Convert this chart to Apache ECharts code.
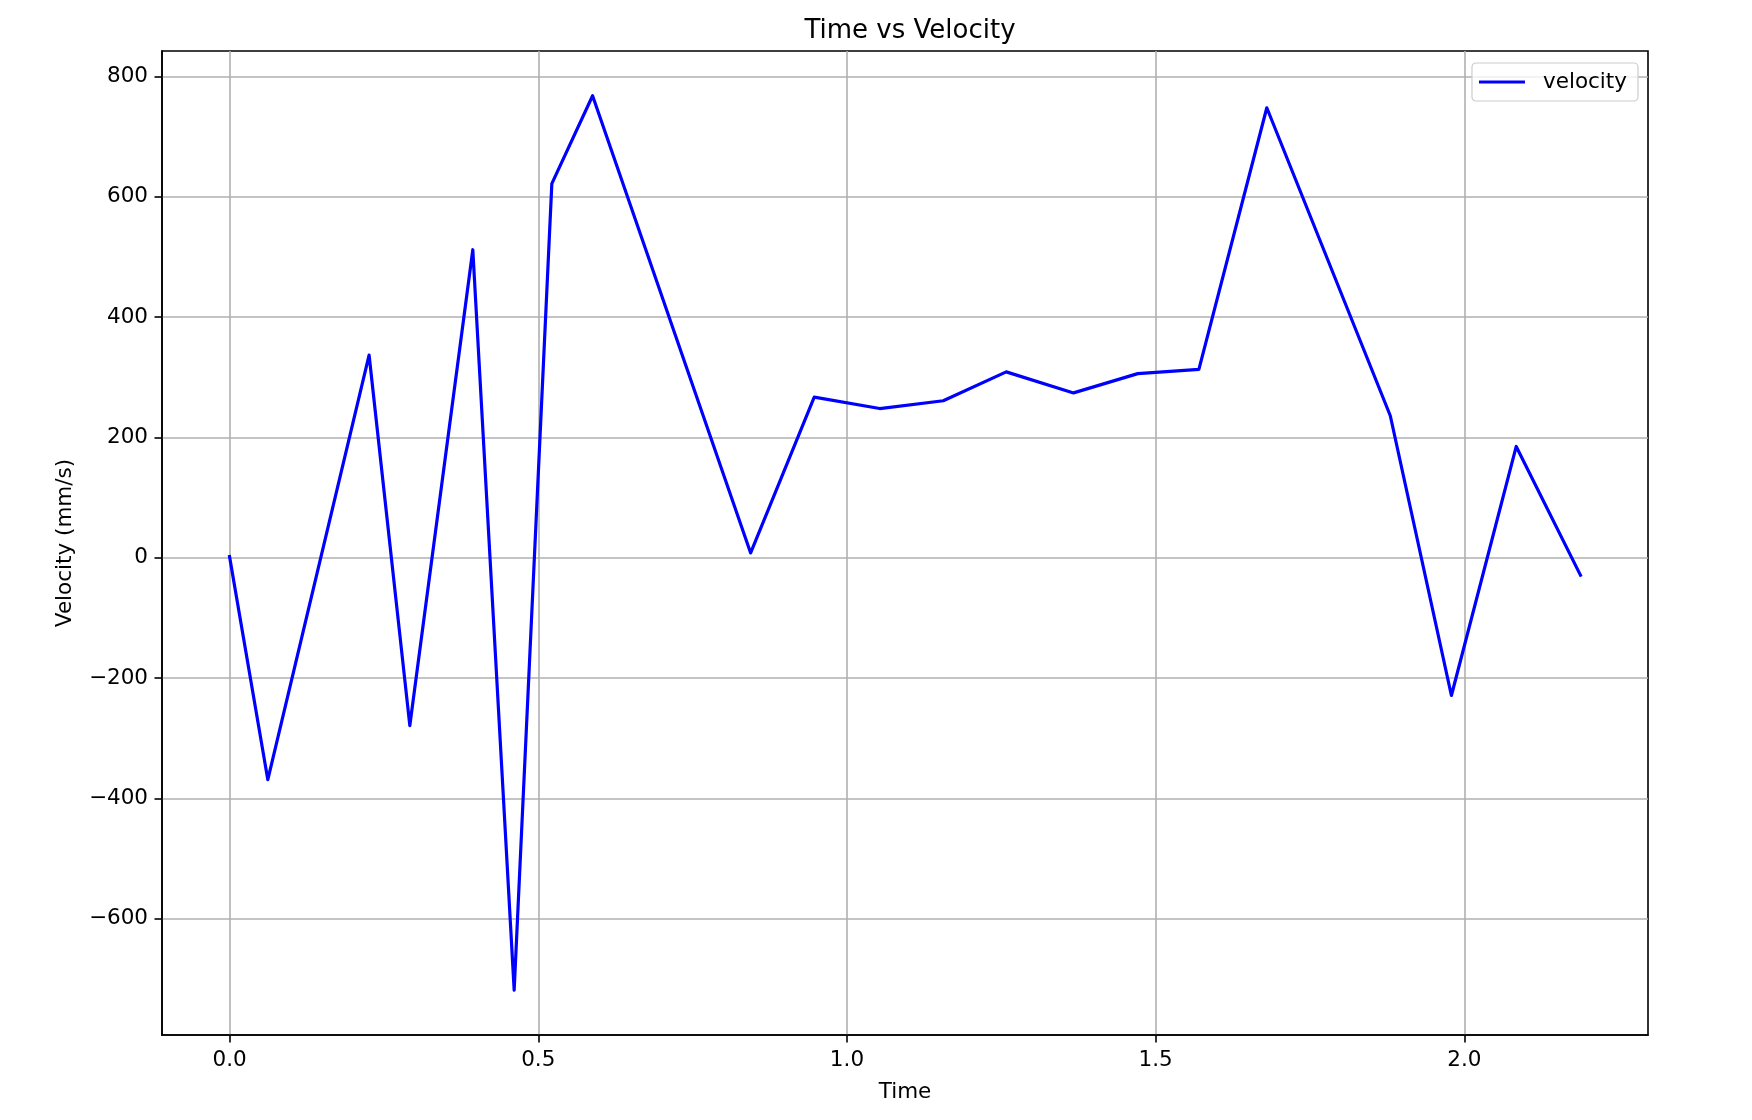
<!DOCTYPE html>
<html>
<head>
<meta charset="utf-8">
<style>
  html, body { margin: 0; padding: 0; background: #ffffff; }
  #chart { width: 1752px; height: 1120px; }
</style>
<script src="https://cdn.jsdelivr.net/npm/echarts@6/dist/echarts.min.js"></script>
</head>
<body>
<div id="chart"></div>
<script>
// ---- data ----
const time = [0, 0.062, 0.226, 0.292, 0.394, 0.461, 0.522, 0.588, 0.844, 0.947, 1.053,
              1.156, 1.258, 1.367, 1.471, 1.570, 1.680, 1.880, 1.979, 2.084, 2.188];
const velocity = [2, -369, 337, -279, 512, -719, 622, 768, 8, 267, 248,
                  261, 309, 274, 306, 313, 748, 236, -229, 185, -29];
const xTicks = [0, 0.5, 1.0, 1.5, 2.0];
const yTicks = [-600, -400, -200, 0, 200, 400, 600, 800];
const seriesName = 'velocity';
const titleText = 'Time vs Velocity';
const xLabel = 'Time';
const yLabel = 'Velocity (mm/s)';

// matplotlib-like 5% margins
function padded(arr) {
  const mn = Math.min.apply(null, arr), mx = Math.max.apply(null, arr);
  const p = (mx - mn) * 0.05;
  return [mn - p, mx + p];
}
const xr = padded(time), yr = padded(velocity);

const FONT = 'DejaVu Sans';
const TXT = '#000000';
const GRIDC = '#b0b0b0';

const points = time.map((t, i) => [t, velocity[i]]);

const chart = echarts.init(document.getElementById('chart'), null, { renderer: 'canvas' });
chart.setOption({
  backgroundColor: '#ffffff',
  animation: false,
  textStyle: { fontFamily: FONT, color: TXT },
  title: {
    text: titleText,
    left: 905,
    textAlign: 'center',
    top: 13,
    textStyle: { fontFamily: FONT, fontSize: 26, fontWeight: 'normal', color: TXT }
  },
  legend: {
    data: [{ name: seriesName, icon: 'rect' }],
    right: 114,
    top: 63,
    orient: 'vertical',
    padding: [8, 11, 8, 7],
    itemWidth: 46,
    itemHeight: 3,
    borderColor: '#cccccc',
    borderWidth: 1.2,
    borderRadius: 4,
    backgroundColor: 'rgba(255,255,255,0.8)',
    itemStyle: { color: '#0000ff', borderWidth: 0 },
    textStyle: { fontFamily: FONT, fontSize: 21.5, color: TXT, padding: [0, 0, 0, 13] }
  },
  grid: {
    left: 162, right: 104, top: 51, bottom: 85,
    containLabel: false,
    outerBoundsMode: 'none',
    show: true,
    borderColor: '#000000',
    borderWidth: 1.6,
    backgroundColor: 'transparent'
  },
  xAxis: {
    type: 'value',
    min: xr[0], max: xr[1],
    minInterval: 0.5, maxInterval: 0.5,
    name: xLabel,
    nameLocation: 'middle',
    nameGap: 46,
    nameTextStyle: { fontFamily: FONT, fontSize: 21.5, color: TXT },
    axisLine: { show: true, onZero: false, lineStyle: { color: '#000', width: 1.6 } },
    axisTick: { show: true, inside: false, length: 7.5, lineStyle: { color: '#000', width: 1.6 }, customValues: xTicks },
    axisLabel: {
      margin: 14,
      fontFamily: FONT, fontSize: 21.5, color: TXT,
      customValues: xTicks,
      formatter: v => (v < 0 ? '\u2212' : '') + Math.abs(v).toFixed(1)
    },
    splitLine: { show: true, lineStyle: { color: GRIDC, width: 1.6 } }
  },
  yAxis: {
    type: 'value',
    min: yr[0], max: yr[1],
    minInterval: 200, maxInterval: 200,
    name: yLabel,
    nameLocation: 'middle',
    nameRotate: 90,
    nameGap: 86,
    nameTextStyle: { fontFamily: FONT, fontSize: 21.5, color: TXT },
    axisLine: { show: true, onZero: false, lineStyle: { color: '#000', width: 1.6 } },
    axisTick: { show: true, inside: false, length: 7.5, lineStyle: { color: '#000', width: 1.6 }, customValues: yTicks },
    axisLabel: {
      margin: 14,
      fontFamily: FONT, fontSize: 21.5, color: TXT,
      customValues: yTicks,
      formatter: v => (v < 0 ? '\u2212' : '') + Math.abs(Math.round(v))
    },
    splitLine: { show: true, lineStyle: { color: GRIDC, width: 1.6 } }
  },
  series: [{
    name: seriesName,
    type: 'line',
    data: points,
    symbol: 'none',
    showSymbol: false,
    smooth: false,
    clip: true,
    color: '#0000ff',
    lineStyle: { color: '#0000ff', width: 3.2, join: 'round', cap: 'square' },
    emphasis: { disabled: true }
  }]
});
</script>
</body>
</html>
